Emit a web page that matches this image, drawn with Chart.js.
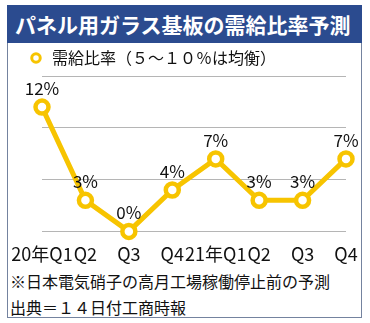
<!DOCTYPE html>
<html>
<head>
<meta charset="utf-8">
<script src="https://cdn.jsdelivr.net/npm/chart.js"></script>
<style>
  body { margin: 0; background: #fff; font-family: "Noto Sans CJK JP", sans-serif; }
  #frame { position: absolute; left: 7px; top: 5px; width: 355px; height: 313px; border: 1px solid #74839f; border-top: none; box-sizing: border-box; }
  #title { position: absolute; left: 7px; top: 5px; width: 355px; height: 38px; background: #2b4b8f; color: #fff;
           font-weight: bold; font-size: 21px; line-height: 38px; padding-left: 8px; box-sizing: border-box; white-space: nowrap; }
  #wrap { position: absolute; left: 0; top: 42px; width: 370px; height: 227px; }
  .note { position: absolute; left: 10px; font-size: 16px; color: #111; white-space: nowrap; }
</style>
</head>
<body>
<div id="frame"></div>
<div id="title">パネル用ガラス基板の需給比率予測</div>
<div id="wrap"><canvas id="chart"></canvas></div>
<div class="note" style="top:269px">※日本電気硝子の高月工場稼働停止前の予測</div>
<div class="note" style="top:295px">出典＝１４日付工商時報</div>
<script>
const quarters = ['20年Q1', 'Q2', 'Q3', 'Q4', '21年Q1', 'Q2', 'Q3', 'Q4'];
const ratio = [12, 3, 0, 4, 7, 3, 3, 7];
const seriesName = '需給比率（５～１０％は均衡）';

const yellow = '#f7c400';
const font = '"Noto Sans CJK JP", sans-serif';

// draws the "12%" style labels above every point
const pointLabels = {
    id: 'pointLabels',
    afterDatasetsDraw(chart) {
        const ctx = chart.ctx;
        const meta = chart.getDatasetMeta(0);
        ctx.save();
        ctx.font = '17px ' + font;
        ctx.fillStyle = '#111';
        ctx.textAlign = 'center';
        ctx.textBaseline = 'alphabetic';
        meta.data.forEach((pt, i) => {
            ctx.fillText(ratio[i] + '%', pt.x, pt.y - 12);
        });
        ctx.restore();
    }
};

new Chart(document.getElementById('chart'), {
    type: 'line',
    data: {
        labels: quarters,
        datasets: [{
            label: seriesName,
            data: ratio,
            borderColor: yellow,
            borderWidth: 5,
            pointRadius: 6.5,
            pointBorderWidth: 4.5,
            pointBackgroundColor: '#fff',
            pointBorderColor: yellow,
            tension: 0,
            clip: false
        }]
    },
    options: {
        responsive: true,
        maintainAspectRatio: false,
        animation: false,
        layout: { padding: { left: 20, right: 24, top: 0, bottom: 0 } },
        plugins: {
            legend: {
                align: 'start',
                labels: {
                    usePointStyle: true,
                    boxHeight: 6,
                    padding: 8,
                    color: '#111',
                    font: { family: font, size: 16 },
                    generateLabels(chart) {
                        const items = Chart.defaults.plugins.legend.labels.generateLabels(chart);
                        items.forEach(it => { it.lineWidth = 3; });
                        return items;
                    }
                }
            },
            tooltip: { enabled: false }
        },
        scales: {
            x: {
                grid: { display: false },
                border: { display: false },
                ticks: {
                    color: '#111',
                    font: { family: font, size: 18 },
                    maxRotation: 0,
                    autoSkip: false,
                    padding: 4
                }
            },
            y: {
                min: 0,
                max: 15,
                afterFit(axis) { axis.width = 22; },
                grid: { color: '#b5b5b5', drawTicks: false },
                border: { display: false },
                ticks: { display: false, stepSize: 5 }
            }
        }
    },
    plugins: [pointLabels]
});
</script>
</body>
</html>
